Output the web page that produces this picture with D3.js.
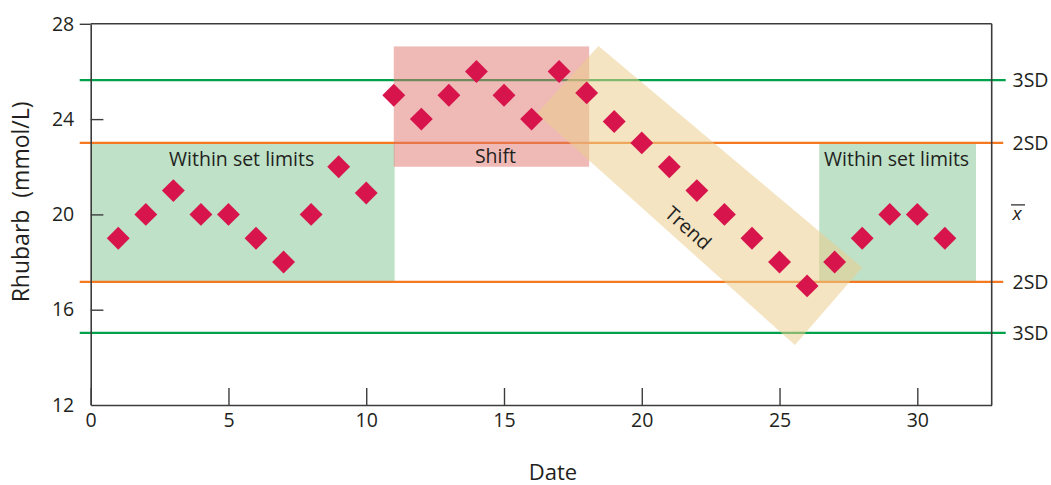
<!DOCTYPE html>
<html><head><meta charset="utf-8">
<script src="https://cdn.jsdelivr.net/npm/d3@7"></script>
<style>
body{margin:0;background:#fff}
svg{display:block}
text{font-family:"Open Sans",sans-serif;fill:#231f20}
</style>
</head><body>
<svg id="chart" width="1051" height="485"></svg>
<script>
// ---- data ----
const dates   = [1,2,3,4,5,6,7,8,9,10,11,12,13,14,15,16,17,18,19,20,21,22,23,24,25,26,27,28,29,30,31];
const rhubarb = [19,20,21,20,20,19,18,20,22,20.9,25,24,25,26,25,24,26,25.1,23.9,23,22,21,20,19,18,17,18,19,20,20,19];
const xTicks = [0,5,10,15,20,25,30];
const yTicks = [12,16,20,24,28];
const xDomain = [0,32.7];
const yDomain = [12,28];
const limitLabels = ["3SD","2SD","2SD","3SD"];
const limitValues = [25.64,23.0,17.17,15.03];
const limitKinds  = ["sd3","sd2","sd2","sd3"];
const meanValue = 20;
const zoneLabels = ["Within set limits","Shift","Within set limits"];
const zoneKinds  = ["ok","shift","ok"];
const zoneX0 = [0,11.0,26.44];
const zoneX1 = [11.03,18.09,32.13];
const zoneY0 = [17.17,22.0,17.17];
const zoneY1 = [23.0,27.05,23.0];
const trendCorners = [[18.43,27.07],[28.0,17.77],[25.56,14.52],[16.19,24.23]];
const trendLabel = "Trend";
const trendLabelAt = [21.68,19.43];
const xTitle = "Date";
const yTitle = "Rhubarb\u00a0\u00a0(mmol/L)";

// ---- layout ----
const svg = d3.select("#chart");
const L = 90.7, R = 991.7, T = 23.8, B = 405;
const x = d3.scaleLinear().domain(xDomain).range([L,R]);
const y = d3.scaleLinear().domain(yDomain).range([B,T]);
const frameColor = "#3c3c3c";
const colors = {sd3:"#00a14b", sd2:"#f47920", ok:"#bee1c8", shift:"#e0736d", trend:"#ebce8e", point:"#d7144b"};

const zones = zoneLabels.map((d,i)=>({label:d,kind:zoneKinds[i],x0:zoneX0[i],x1:zoneX1[i],y0:zoneY0[i],y1:zoneY1[i]}));

// green zones (under lines)
svg.append("g").selectAll("rect").data(zones.filter(z=>z.kind==="ok")).join("rect")
  .attr("x",d=>x(d.x0)).attr("width",d=>x(d.x1)-x(d.x0))
  .attr("y",d=>y(d.y1)).attr("height",d=>y(d.y0)-y(d.y1))
  .attr("fill",colors.ok);

// limit lines
const limits = limitValues.map((v,i)=>({v,label:limitLabels[i],kind:limitKinds[i]}));
svg.append("g").selectAll("line").data(limits).join("line")
  .attr("x1",x(xDomain[0])-11)
  .attr("x2",d=>x(xDomain[1])+(d.kind==="sd3"?14:11.5))
  .attr("y1",d=>y(d.v)).attr("y2",d=>y(d.v))
  .attr("stroke",d=>colors[d.kind]).attr("stroke-width",2.2);

// shift zone
svg.append("g").selectAll("rect").data(zones.filter(z=>z.kind==="shift")).join("rect")
  .attr("x",d=>x(d.x0)).attr("width",d=>x(d.x1)-x(d.x0))
  .attr("y",d=>y(d.y1)).attr("height",d=>y(d.y0)-y(d.y1))
  .attr("fill",colors.shift).attr("fill-opacity",0.5);

// trend band
svg.append("path")
  .attr("d", d3.line().x(d=>x(d[0])).y(d=>y(d[1]))(trendCorners)+"Z")
  .attr("fill",colors.trend).attr("fill-opacity",0.55);

// axes
const gx = svg.append("g").attr("transform",`translate(0,${B})`)
  .call(d3.axisBottom(x).tickValues(xTicks).tickSizeInner(-17).tickSizeOuter(0).tickPadding(23));
const gy = svg.append("g").attr("transform",`translate(${L},0)`)
  .call(d3.axisLeft(y).tickValues(yTicks).tickSizeInner(-12.7).tickSizeOuter(0).tickPadding(29));
[gx,gy].forEach(g=>{
  g.select(".domain").attr("stroke",frameColor).attr("stroke-width",1.6);
  g.selectAll(".tick line").attr("stroke",frameColor).attr("stroke-width",1.4);
  g.selectAll(".tick text").style("font-family","'Open Sans',sans-serif").style("font-size","19.5px").attr("fill","#231f20");
});
gx.selectAll(".tick text").attr("dy","0.71em").attr("y",8);
gy.selectAll(".tick text").attr("x",-16.5);
gy.selectAll(".tick").filter(d=>d===28).select("line").attr("x2",-11);
gy.selectAll(".tick").filter(d=>d===12).select("line").remove();
// top and right frame
svg.append("line").attr("x1",L).attr("x2",R).attr("y1",T).attr("y2",T).attr("stroke",frameColor).attr("stroke-width",1.6);
svg.append("line").attr("x1",R).attr("x2",R).attr("y1",T).attr("y2",B).attr("stroke",frameColor).attr("stroke-width",1.6);

// points
svg.append("g").selectAll("path").data(dates.map((d,i)=>({d,v:rhubarb[i]}))).join("path")
  .attr("d",d3.symbol().type(d3.symbolSquare).size(262))
  .attr("transform",d=>`translate(${x(d.d)},${y(d.v)}) rotate(45)`)
  .attr("fill",colors.point);

// zone labels
svg.append("g").selectAll("text").data(zones).join("text")
  .attr("x",d=>x((d.x0+d.x1)/2)+(d.kind==="shift"?4:-1))
  .attr("y",d=>d.kind==="shift"? y(d.y0)-3.5 : y(d.y1)+23)
  .attr("text-anchor","middle").style("font-size","19.5px")
  .text(d=>d.label);

// trend label
svg.append("text")
  .attr("transform",`translate(${x(trendLabelAt[0])},${y(trendLabelAt[1])}) rotate(41.5)`)
  .attr("text-anchor","middle").attr("dy","0.35em").style("font-size","19.5px")
  .text(trendLabel);

// right labels
svg.append("g").selectAll("text").data(limits).join("text")
  .attr("x",1012.5).attr("y",d=>y(d.v)).attr("dy","0.36em")
  .style("font-size","19.5px").text(d=>d.label);
svg.append("text").attr("x",1012.5).attr("y",y(meanValue)+5.6)
  .style("font-size","19px").style("font-style","italic").text("x");
svg.append("line").attr("x1",1011).attr("x2",1025).attr("y1",y(meanValue)-9.5).attr("y2",y(meanValue)-9.5)
  .attr("stroke","#231f20").attr("stroke-width",1.2);

// titles
svg.append("text").attr("x",553).attr("y",479.5).attr("text-anchor","middle")
  .style("font-size","22px").text(xTitle);
svg.append("text").attr("transform",`translate(29.3,${y(20.0)-12.5}) rotate(-90)`)
  .attr("text-anchor","middle").style("font-size","23px").text(yTitle);
</script>
</body></html>
